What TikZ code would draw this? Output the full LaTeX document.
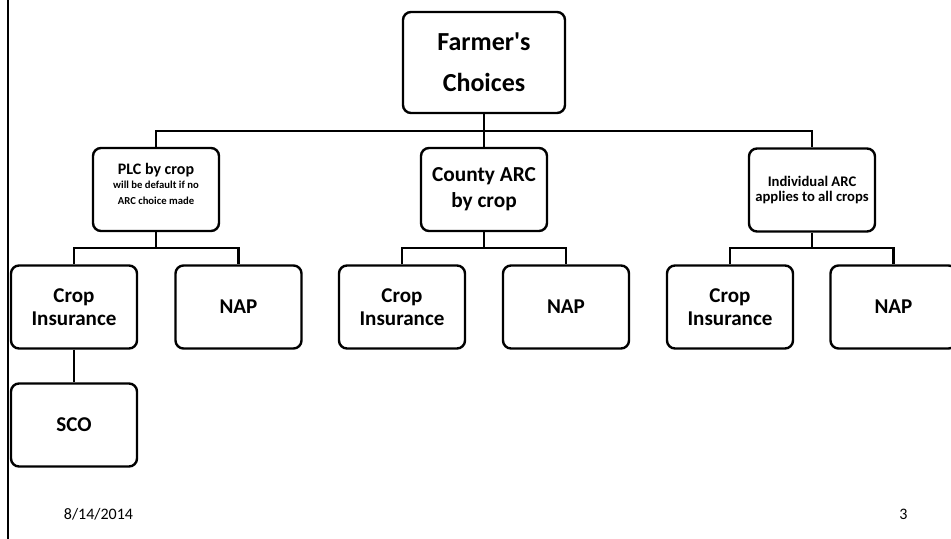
\documentclass[tikz,border=0pt]{standalone}
\usepackage{fontspec}
\setmainfont{Carlito}
\begin{document}
\begin{tikzpicture}[x=0.75pt,y=-0.75pt,
  box/.style={draw=black,line width=1.8pt,rounded corners=6pt,fill=white,
    minimum width=126*0.75pt,minimum height=83*0.75pt,align=center,inner sep=0pt,
    font=\bfseries},
  conn/.style={draw=black,line width=1.7pt},
  fbig/.style={font=\bfseries\fontsize{19.5}{30.5}\selectfont},
  fmid/.style={font=\bfseries\fontsize{16}{19.5}\selectfont},
  fleaf/.style={font=\bfseries\fontsize{15.8}{16.8}\selectfont},
  foot/.style={font=\fontsize{12}{14}\selectfont,inner sep=0pt}]
\useasboundingbox (0,0) rectangle (951,539);
\clip (0,0) rectangle (951,539);
\draw[line width=1.7pt] (8,0) -- (8,539);

\node[box,fbig,minimum width=162*0.75pt,minimum height=101*0.75pt] (root) at (484,62.5) {Farmer\textquotesingle s\\Choices};

\node[box] (plc) at (156,189.5) {};
\node[align=center,inner sep=0pt,font=\bfseries] (plct) at (156,184)
  {\fontsize{12}{14}\selectfont PLC by crop\\[-1pt]
   \fontsize{8}{11.5}\selectfont will be default if no\\
   \fontsize{8}{11.5}\selectfont ARC choice made};
\node[box,fmid] (county) at (484,189.5) {County ARC\\by crop};
\node[box,font=\bfseries\fontsize{11}{11.5}\selectfont] (indiv) at (812,190) {Individual ARC\\applies to all crops};

\node[box,fleaf] (ci1) at (74,307) {Crop\\Insurance};
\node[box,fleaf] (nap1) at (238.5,307) {NAP};
\node[box,fleaf] (ci2) at (402,307) {Crop\\Insurance};
\node[box,fleaf] (nap2) at (566,307) {NAP};
\node[box,fleaf] (ci3) at (730,307) {Crop\\Insurance};
\node[box,fleaf] (nap3) at (893.5,307) {NAP};
\node[box,fleaf] (sco) at (74,425) {SCO};

\coordinate (b0) at (484,131);
\coordinate (b1) at (156,248);
\coordinate (b2) at (484,248);
\coordinate (b3) at (812,248);

\draw[conn] (root.south) -- (county.north);
\draw[conn] (plc.north) |- (b0) -| (indiv.north);
\draw[conn] (plc.south) -- (b1);
\draw[conn] (ci1.north) |- (b1) -| (nap1.north);
\draw[conn] (county.south) -- (b2);
\draw[conn] (ci2.north) |- (b2) -| (nap2.north);
\draw[conn] (indiv.south) -- (b3);
\draw[conn] (ci3.north) |- (b3) -| (nap3.north);
\draw[conn] (ci1.south) -- (sco.north);

\node[foot] (date) at (98.5,514) {8/14/2014};
\node[foot] (page) at (903.5,514) {3};
\end{tikzpicture}
\end{document}
